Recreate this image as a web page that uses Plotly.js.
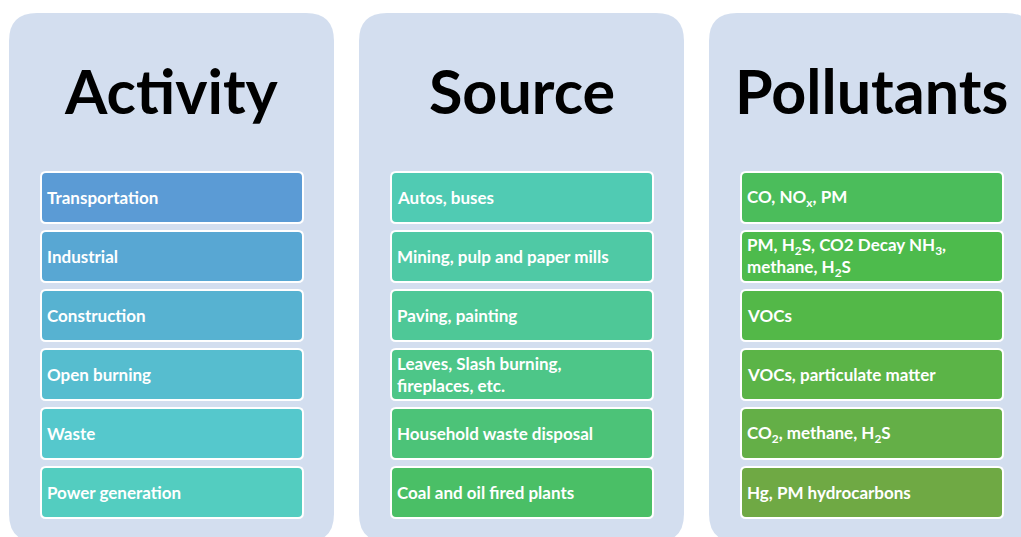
<!DOCTYPE html>
<html>
<head>
<meta charset="utf-8">
<script src="https://cdn.plot.ly/plotly-3.0.1.min.js"></script>
<style>html,body{margin:0;padding:0;background:#fff;}#chart{width:1021px;height:537px;}</style>
</head>
<body>
<div id="chart"></div>
<script>
// ---- content ----
const titles = ['Activity', 'Source', 'Pollutants'];
const activities = ['Transportation', 'Industrial', 'Construction', 'Open burning', 'Waste', 'Power generation'];
const sources = ['Autos, buses', 'Mining, pulp and paper mills', 'Paving, painting',
  'Leaves, Slash burning,<br>fireplaces, etc.', 'Household waste disposal', 'Coal and oil fired plants'];
const pollutants = ['CO, NO<sub>x</sub>, PM',
  'PM, H<sub>2</sub>S, CO2 Decay NH<sub>3</sub>,<br>methane, H<sub>2</sub>S',
  'VOCs', 'VOCs, particulate matter', 'CO<sub>2</sub>, methane, H<sub>2</sub>S', 'Hg, PM hydrocarbons'];

// ---- styles ----
const activityColors = ['#5B9BD5', '#58A7D3', '#57B2D1', '#56BDCF', '#55C8CC', '#53CDC0'];
const sourceColors = ['#50CBB3', '#4FC9A5', '#4EC897', '#4DC688', '#4CC378', '#4ABF66'];
const pollutantColors = ['#4BBD5B', '#4DBB4C', '#53B848', '#5BB447', '#64AF47', '#6FA944'];
const panelColor = '#D3DEEF';

const columns = [activities, sources, pollutants];
const columnColors = [activityColors, sourceColors, pollutantColors];

function rrect(x0, y0, x1, y1, r) {
  return `M${x0 + r},${y0} L${x1 - r},${y0} Q${x1},${y0} ${x1},${y0 + r} L${x1},${y1 - r} Q${x1},${y1} ${x1 - r},${y1} ` +
         `L${x0 + r},${y1} Q${x0},${y1} ${x0},${y1 - r} L${x0},${y0 + r} Q${x0},${y0} ${x0 + r},${y0} Z`;
}

const shapes = [];
const annotations = [];
const colStep = 350, panelX0 = 9, panelW = 325, panelTop = 13, panelBottom = 542;
const boxX0 = 41, boxW = 262, boxTop = 172, rowStep = 59, boxH = 51;

columns.forEach((items, c) => {
  const px0 = panelX0 + c * colStep;
  shapes.push({type: 'path', xref: 'x', yref: 'y', layer: 'below',
    path: rrect(px0, panelTop, px0 + panelW, panelBottom, 28),
    fillcolor: panelColor, line: {width: 0}});
  annotations.push({x: px0 + panelW / 2, y: 90, xref: 'x', yref: 'y', text: titles[c],
    showarrow: false, xanchor: 'center', yanchor: 'middle',
    font: {family: 'Lato, "Open Sans", sans-serif', size: 61, color: '#000', weight: 700}});
  items.forEach((label, i) => {
    const bx0 = boxX0 + c * colStep, by0 = boxTop + i * rowStep;
    shapes.push({type: 'path', xref: 'x', yref: 'y', layer: 'above',
      path: rrect(bx0, by0, bx0 + boxW, by0 + boxH, 5),
      fillcolor: columnColors[c][i], line: {color: '#FFFFFF', width: 2}});
    annotations.push({x: bx0 + 4, y: by0 + boxH / 2, xref: 'x', yref: 'y', text: label,
      showarrow: false, xanchor: 'left', yanchor: 'middle', align: 'left',
      font: {family: 'Lato, "Open Sans", sans-serif', size: 17, color: '#FFFFFF', weight: 700}});
  });
});

const layout = {
  width: 1021, height: 537,
  margin: {l: 0, r: 0, t: 0, b: 0},
  paper_bgcolor: '#FFFFFF', plot_bgcolor: '#FFFFFF',
  xaxis: {range: [0, 1021], visible: false, fixedrange: true},
  yaxis: {range: [537, 0], visible: false, fixedrange: true},
  showlegend: false,
  shapes: shapes,
  annotations: annotations
};

Plotly.newPlot('chart', [], layout, {displayModeBar: false, staticPlot: true});
</script>
</body>
</html>
